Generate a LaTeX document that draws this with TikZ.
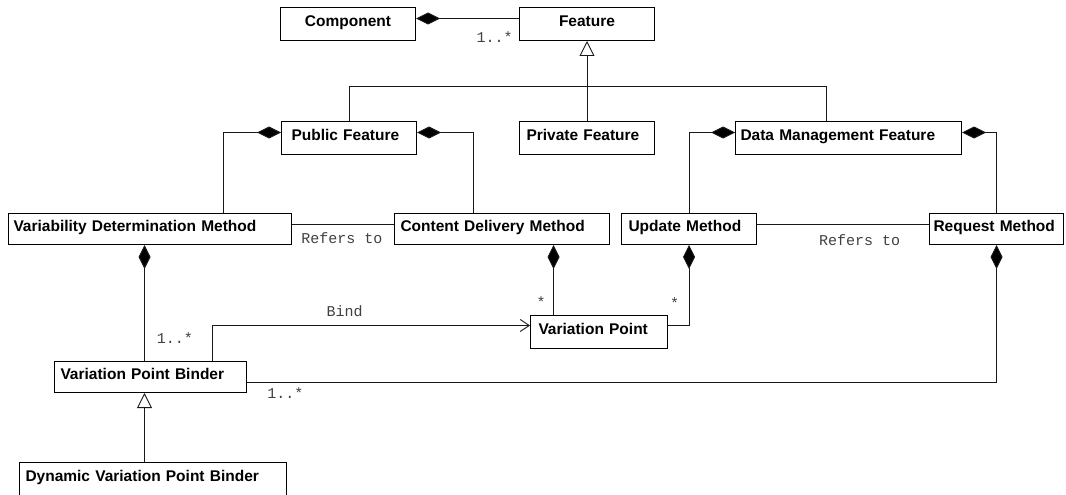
\documentclass[tikz,border=0pt]{standalone}
\usepackage{fontspec}
\newfontfamily\boxfont{Liberation Sans}
\newfontfamily\labelfont{Liberation Mono}
\usetikzlibrary{arrows.meta}

\begin{document}
\begin{tikzpicture}[x=1pt,y=-1pt,
  cls/.style={draw, line width=1pt, anchor=north west, inner ysep=0pt,
    font=\boxfont\bfseries\fontsize{15.5}{18}\selectfont,
    text height=11pt, text depth=6pt},
  conn/.style={line width=0.9pt, draw=black!90},
  compo/.style={conn, -{Diamond[length=24pt, width=12pt, fill=black]}},
  gen/.style={conn, -{Triangle[open, length=15pt, width=15pt]}},
  bind/.style={conn, -{Straight Barb[length=9pt, width=12pt]}},
  lbl/.style={font=\labelfont\fontsize{15}{18}\selectfont, text=black!75,
    anchor=base, inner sep=0pt}]

\useasboundingbox (0,0) rectangle (1066,495);

% classes
\node[cls, minimum width=135pt, minimum height=33pt, align=center] (comp) at (280,7) {Component};
\node[cls, minimum width=135pt, minimum height=33pt, align=center] (feat) at (519,7) {Feature};
\node[cls, minimum width=135pt, minimum height=33pt, inner xsep=10pt, text width=115pt, align=left] (pubf) at (281,121) {Public Feature};
\node[cls, minimum width=135pt, minimum height=33pt, inner xsep=7pt, text width=121pt, align=left] (privf) at (519,121) {Private Feature};
\node[cls, minimum width=226pt, minimum height=33pt, inner xsep=5pt, text width=216pt, align=left] (dmf) at (735,121) {Data Management Feature};
\node[cls, minimum width=283pt, minimum height=31pt, inner xsep=5pt, text width=273pt, align=left] (vdm) at (8,213) {Variability Determination Method};
\node[cls, minimum width=215pt, minimum height=31pt, inner xsep=6pt, text width=203pt, align=left] (cdm) at (394,213) {Content Delivery Method};
\node[cls, minimum width=135pt, minimum height=31pt, inner xsep=7pt, text width=121pt, align=left] (upd) at (621,213) {Update Method};
\node[cls, minimum width=134pt, minimum height=31pt, inner xsep=4pt, text width=126pt, align=left] (req) at (929,213) {Request Method};
\node[cls, minimum width=137pt, minimum height=33pt, inner xsep=8pt, text width=121pt, align=left] (vp) at (530,315) {Variation Point};
\node[cls, minimum width=192pt, minimum height=31pt, inner xsep=6pt, text width=180pt, align=left] (vpb) at (54,361) {Variation Point Binder};
\node[cls, minimum width=267pt, minimum height=35pt, inner xsep=6pt, text width=255pt, align=left, text depth=9pt] (dvpb) at (19,462) {Dynamic Variation Point Binder};

% helper points for the routed connectors
\coordinate (genbar) at (0,86);
\coordinate (dmftop) at ([xshift=-22pt]dmf.north);
\coordinate (binderaxis) at ([xshift=-6pt]vpb.north);
\coordinate (binderfoot) at ([xshift=-6pt]vpb.south);
\coordinate (cdmfoot) at ([xshift=-45.5pt]vp.north);

% Component owns Features
\draw[compo] ([yshift=5.5pt]feat.west) -- ([yshift=5.5pt]comp.east);
\node[lbl] (m1) at (494.5,43) {1..*};

% Feature specialisations
\draw[gen] (privf.north) -- (feat.south);
\draw[conn] (pubf.north) -- (pubf.north |- genbar) -- (dmftop |- genbar) -- (dmftop);

% Public Feature parts
\draw[compo] ([xshift=73.5pt]vdm.north) |- ([yshift=5.5pt]pubf.west);
\draw[compo] ([xshift=-28.5pt]cdm.north) |- ([yshift=5.5pt]pubf.east);

% Data Management Feature parts
\draw[compo] (upd.north) |- ([yshift=5.5pt]dmf.west);
\draw[compo] (req.north) |- ([yshift=5.5pt]dmf.east);

% Refers to associations
\draw[conn] ([yshift=4.5pt]vdm.east) -- ([yshift=4.5pt]cdm.west);
\node[lbl] (r1) at (342,243) {Refers to};
\draw[conn] ([yshift=4.5pt]upd.east) -- ([yshift=4.5pt]req.west);
\node[lbl] (r2) at (859.5,245.5) {Refers to};

% Variation Point ownership
\draw[compo] (cdmfoot) -- (cdmfoot |- cdm.south);
\node[lbl] (s1) at (541,307) {*};
\draw[compo] ([yshift=6.5pt]vp.east) -| (upd.south);
\node[lbl] (s2) at (674.5,308) {*};

% Variation Point Binder
\draw[compo] (binderaxis) -- (binderaxis |- vdm.south);
\node[lbl] (m2) at (175,343) {1..*};
\draw[bind] ([xshift=62pt]vpb.north) |- ([yshift=6.5pt]vp.west);
\node[lbl] (b1) at (344.5,316.5) {Bind};
\draw[compo] ([yshift=-5.5pt]vpb.east) -| (req.south);
\node[lbl] (m3) at (285.5,398) {1..*};
\draw[gen] (binderfoot |- dvpb.north) -- (binderfoot);

\end{tikzpicture}
\end{document}
